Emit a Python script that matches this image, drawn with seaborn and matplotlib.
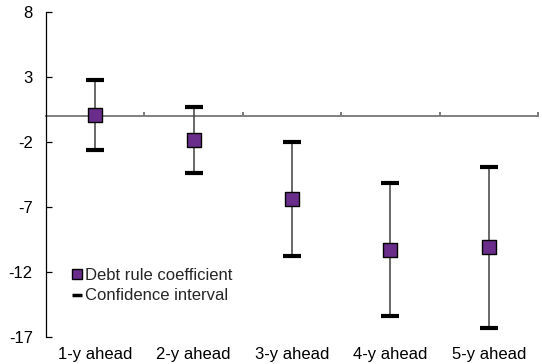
import matplotlib
matplotlib.use("Agg")
import matplotlib.pyplot as plt
from matplotlib.lines import Line2D
import seaborn as sns
import pandas as pd

# Coefficient estimates and confidence bounds by horizon
horizons = ["1-y ahead", "2-y ahead", "3-y ahead", "4-y ahead", "5-y ahead"]
coefficient = [0.1, -1.85, -6.4, -10.3, -10.1]
ci_upper = [2.8, 0.7, -2.0, -5.15, -3.9]
ci_lower = [-2.6, -4.35, -10.8, -15.4, -16.3]
yticks = [8, 3, -2, -7, -12, -17]

purple = "#6A2D8C"

sns.set_theme(style="white")
plt.rcParams["font.family"] = ["Liberation Sans", "DejaVu Sans"]

fig = plt.figure(figsize=(5.42, 3.64), dpi=100)
ax = fig.add_axes([46 / 542, 1 - 337 / 364, (538 - 46) / 542, (337 - 12) / 364])

df = pd.DataFrame({"horizon": horizons, "x": range(len(horizons)),
                   "coef": coefficient, "lo": ci_lower, "hi": ci_upper})

# Confidence interval whiskers with thick caps
eb = ax.errorbar(df["x"], df["coef"],
                 yerr=[df["coef"] - df["lo"], df["hi"] - df["coef"]],
                 fmt="none", ecolor="#404040", elinewidth=1.1,
                 capsize=6.3, capthick=3.0, zorder=2)
for cap in eb.lines[1]:
    cap.set_markeredgecolor("black")
    cap.set_markerfacecolor("black")

# Point estimates
sns.scatterplot(data=df, x="x", y="coef", marker="s", s=105, color=purple,
                edgecolor="black", linewidth=1.0, ax=ax, zorder=4, legend=False)

ax.set_xlim(-0.5, 4.5)
ax.set_ylim(-17, 8)
ax.set_yticks(yticks)
ax.set_yticklabels([str(v) for v in yticks])
ax.set_xlabel("")
ax.set_ylabel("")

for side in ["top", "right"]:
    ax.spines[side].set_visible(False)
ax.spines["left"].set_color("black")
ax.spines["left"].set_linewidth(0.9)
ax.spines["bottom"].set_position(("data", 0))
ax.spines["bottom"].set_color("#808080")
ax.spines["bottom"].set_linewidth(1.4)
ax.spines["bottom"].set_zorder(1)

ax.set_xticks([0.5, 1.5, 2.5, 3.5, 4.5])
ax.set_xticklabels([])
ax.tick_params(axis="x", direction="in", length=3, width=1.2, color="#606060", bottom=True)
ax.tick_params(axis="y", direction="in", length=4, width=0.9, color="black",
               left=True, labelsize=12, pad=9.5, labelcolor="black")

# Category labels along the bottom edge
sec = ax.secondary_xaxis(0.0)
sec.set_xticks(range(len(horizons)))
sec.set_xticklabels(horizons)
sec.tick_params(length=0, labelsize=12, pad=7, labelcolor="black")
sec.spines["bottom"].set_visible(False)

handles = [
    Line2D([], [], marker="s", linestyle="none", markersize=7,
           markerfacecolor=purple, markeredgecolor="black", markeredgewidth=1.0,
           label="Debt rule coefficient"),
    Line2D([], [], marker="_", linestyle="none", markersize=7,
           markeredgewidth=2.5, color="black", label="Confidence interval"),
]
ax.legend(handles=handles, loc="upper left", bbox_to_anchor=(0.04, 0.234),
          frameon=False, fontsize=12, handlelength=0.6, handletextpad=0.15,
          labelspacing=0.35, borderaxespad=0)

fig.savefig("out.png", dpi=100)
